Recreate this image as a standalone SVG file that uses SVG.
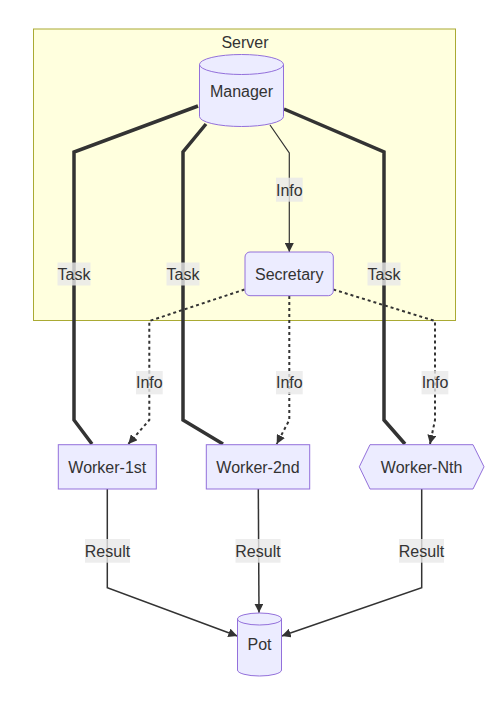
<svg xmlns="http://www.w3.org/2000/svg" width="498" height="712" viewBox="0 0 498 712">
<style>
text{font-family:"Liberation Sans",Arial,sans-serif;font-size:16px;fill:#333;text-anchor:middle}
.node{fill:#ECECFF;stroke:#9370DB;stroke-width:1}
.cluster{fill:#ffffde;stroke:#aaaa33;stroke-width:1}
.edge{fill:none;stroke:#333}
.thick{stroke-width:3.5}
.normal{stroke-width:1.5}
.thin{stroke-width:1.2}
.dot{stroke-width:2;stroke-dasharray:3 3}
.lbl{fill:#e8e8e8;opacity:0.8}
</style>
<defs>
<marker id="arr" viewBox="0 0 10 10" refX="10" refY="5" markerUnits="userSpaceOnUse" markerWidth="9" markerHeight="9" orient="auto">
<path d="M0,0 L10,5 L0,10 z" fill="#333"/>
</marker>
</defs>
<g id="Server">
<rect class="cluster" x="33.5" y="29" width="422" height="291.5"/>
<text x="245" y="48">Server</text>
</g>
<g id="connectors">
<path class="edge thick" d="M198,106 L74,152 L74,420 L92,444"/>
<path class="edge thick" d="M206,124 L183,152 L183,420 L223,444"/>
<path class="edge thin" d="M270,125 L289.3,153 L289.3,252" marker-end="url(#arr)"/>
<path class="edge thick" d="M284,109 L384,152 L384,420 L405,444"/>
<path class="edge dot" d="M244.5,289.5 L149.3,321 L149.3,420 L128.3,444" marker-end="url(#arr)"/>
<path class="edge dot" d="M289.3,296 L289.3,420 L276.7,444" marker-end="url(#arr)"/>
<path class="edge dot" d="M333.3,289.5 L435,321 L435,420 L430,444" marker-end="url(#arr)"/>
<path class="edge normal" d="M107.3,489 L107.3,587.7 L237.3,636" marker-end="url(#arr)"/>
<path class="edge normal" d="M258.3,489 L259,612.7" marker-end="url(#arr)"/>
<path class="edge normal" d="M421.7,489 L421.7,587.7 L281.7,636" marker-end="url(#arr)"/>
<g id="edge-labels">
<rect class="lbl" x="276" y="177.7" width="26.7" height="24"/>
<text x="289.3" y="195.5">Info</text>
<rect class="lbl" x="57.5" y="262.5" width="33" height="23"/>
<text x="74" y="279.5">Task</text>
<rect class="lbl" x="166.5" y="262.5" width="33" height="23"/>
<text x="183" y="279.5">Task</text>
<rect class="lbl" x="367.5" y="262.5" width="33" height="23"/>
<text x="384" y="279.5">Task</text>
<rect class="lbl" x="136" y="371" width="26.7" height="23.3"/>
<text x="149.3" y="388.3">Info</text>
<rect class="lbl" x="276" y="371" width="26.7" height="23.3"/>
<text x="289.3" y="388.3">Info</text>
<rect class="lbl" x="421.6" y="371" width="26.7" height="23.3"/>
<text x="435" y="388.3">Info</text>
<rect class="lbl" x="85" y="539" width="45" height="23.7"/>
<text x="107.5" y="556.5">Result</text>
<rect class="lbl" x="235.5" y="539" width="45" height="23.7"/>
<text x="258" y="556.5">Result</text>
<rect class="lbl" x="399" y="539" width="45" height="23.7"/>
<text x="421.5" y="556.5">Result</text>
</g>
</g>
<g id="Manager">
<path class="node" d="M199.5,64.5 a42,10 0 0 0 84,0 a42,10 0 0 0 -84,0 l0,52 a42,10 0 0 0 84,0 l0,-52"/>
<text x="241.5" y="96.5">Manager</text>
</g>
<g id="Secretary">
<rect class="node" x="245" y="252" width="88.3" height="43.7" rx="5" ry="5"/>
<text x="289.2" y="279.5">Secretary</text>
</g>
<g id="Worker-1st">
<rect class="node" x="58.3" y="444.7" width="98" height="44.3"/>
<text x="107.3" y="472.5">Worker-1st</text>
</g>
<g id="Worker-2nd">
<rect class="node" x="206.3" y="444.7" width="103.4" height="44.3"/>
<text x="258" y="472.5">Worker-2nd</text>
</g>
<g id="Worker-Nth">
<polygon class="node" points="370,444.7 473,444.7 484,466.8 473,489 370,489 359.3,466.8"/>
<text x="421.6" y="472.5">Worker-Nth</text>
</g>
<g id="Pot">
<path class="node" d="M237.5,619 a22,6 0 0 0 44,0 a22,6 0 0 0 -44,0 l0,51 a22,6 0 0 0 44,0 l0,-51"/>
<text x="259.5" y="649.5">Pot</text>
</g>
</svg>
